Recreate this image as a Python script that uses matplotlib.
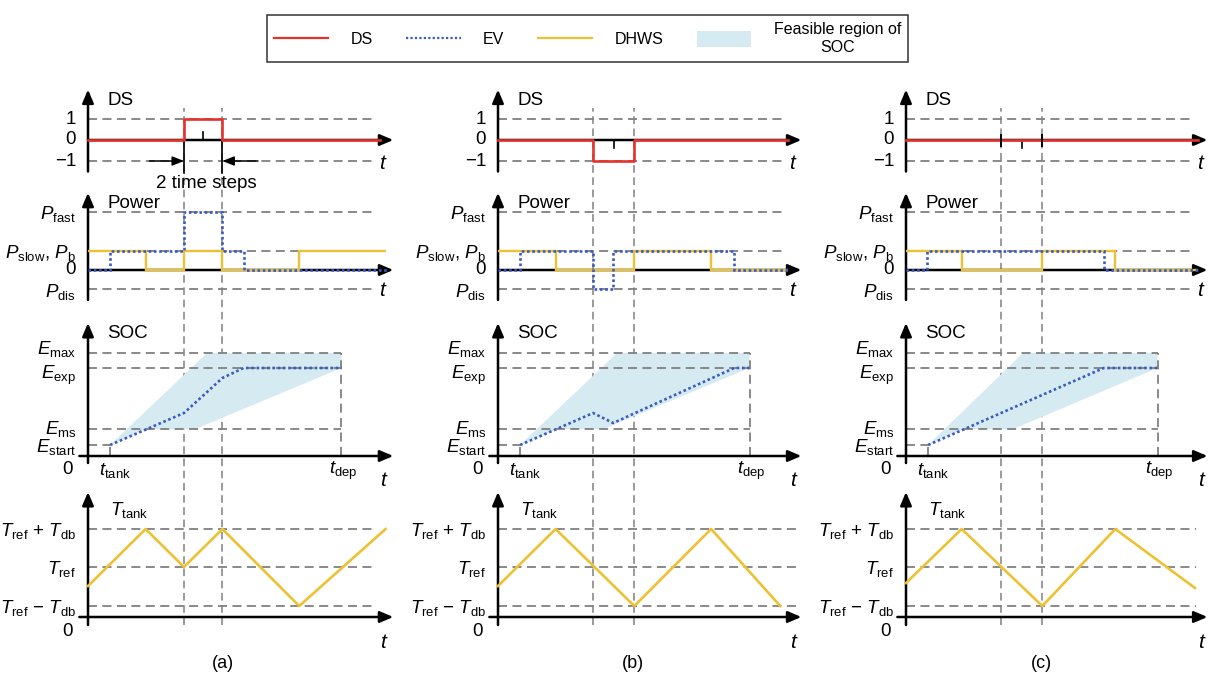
import numpy as np
import matplotlib.pyplot as plt
from matplotlib.lines import Line2D
from matplotlib.patches import Patch, Polygon

plt.rcParams['font.family'] = ['Liberation Sans', 'DejaVu Sans']
plt.rcParams['mathtext.fontset'] = 'custom'
plt.rcParams['mathtext.rm'] = 'Liberation Sans'
plt.rcParams['mathtext.it'] = 'Liberation Sans:italic'

RED = '#e5322d'
BLUE = '#3a5bbf'
YEL = '#edc132'
SHADE = '#d6ebf1'
GREY = '#808080'
DASH = (0, (5, 3))

# ---- levels (schematic units) ----
ds_levels = [1, 0, -1]
ds_labels = ['1', '0', '\u22121']
p_fast, p_b, p_dis = 3.0, 1.0, -1.0
e_start, e_ms, e_exp, e_max = 1.1, 2.7, 8.8, 10.3
t_lo, t_ref, t_hi = 1.1, 5.0, 8.8

# ---- per column data, time in steps ----
ds_on = [5.0, 4.95, 4.95]
ds_off = [7.0, 7.1, 7.1]
ds_val = [1, -1, 0]
ds_end = [15.2, 15.1, 15.2]
mid_tick = [1, -1, -1]
t_tank = [1.15, 1.15, 1.15]
t_dep = [13.2, 13.1, 13.1]

ev_edges = [[0, 1.15, 5.0, 7.0, 8.1, 15.6],
            [0, 1.15, 4.95, 6.0, 12.3, 15.1],
            [0, 1.1, 10.3, 15.2]]
ev_vals = [[0, p_b, p_fast, p_b, 0],
           [0, p_b, p_dis, p_b, 0],
           [0, p_b, 0]]
hw_edges = [[0, 3.0, 5.0, 7.0, 11.0, 15.5],
            [0, 3.0, 7.1, 11.1, 15.1],
            [0, 2.9, 7.1, 10.9, 15.2]]
hw_vals = [[p_b, 0, p_b, 0, p_b],
           [p_b, 0, p_b, 0],
           [p_b, 0, p_b, 0]]

soc_t = [[1.15, 5.0, 7.0, 8.1, 13.2],
         [1.15, 4.95, 6.0, 12.3, 13.1],
         [1.15, 10.3, 13.1]]
soc_e = [[e_start, 4.3, 7.8, e_exp, e_exp],
         [e_start, 4.3, 3.3, e_exp, e_exp],
         [e_start, e_exp, e_exp]]
feas_t = [[1.15, 6.2, 13.2, 13.2, 5.6, 3.1],
          [1.15, 6.2, 13.1, 13.1, 5.5, 3.1],
          [1.15, 6.1, 13.1, 13.1, 5.6, 3.0]]
feas_e = [e_start, e_max, e_max, e_exp, e_ms, e_ms]

tmp_t = [[0, 3.0, 5.0, 7.0, 11.0, 15.5],
         [0, 3.0, 7.1, 11.1, 14.7],
         [0, 2.9, 7.1, 10.9, 15.05]]
tmp_v = [[3.1, t_hi, t_ref, t_hi, t_lo, t_hi],
         [3.1, t_hi, t_lo, t_hi, t_lo],
         [3.4, t_hi, t_lo, t_hi, 2.9]]
tmp_dash_end = [14.9, 15.6, 15.1]
tip = [15.9, 15.8, 15.7]
col_names = ['(a)', '(b)', '(c)']

# ---- layout (pixels) ----
W, H = 1213, 678
SX = 19.2
col_x0 = [88, 498, 906]
row_geom = {'ds': (140, 21.0), 'pw': (270, 19.3), 'soc': (456, 10.0), 'tmp': (617, 10.0)}
row_ylim = {'ds': (-1.5, 2.4), 'pw': (-1.55, 4.0), 'soc': (-0.7, 13.3), 'tmp': (-0.8, 12.5)}
XLIM = (-1.0, 16.5)
FS = 13.5

fig = plt.figure(figsize=(W / 100, H / 100), dpi=100)


def panel(c, r):
    y0, py = row_geom[r]
    ylo, yhi = row_ylim[r]
    left = col_x0[c] + XLIM[0] * SX
    width = (XLIM[1] - XLIM[0]) * SX
    top = y0 - yhi * py
    height = (yhi - ylo) * py
    ax = fig.add_axes([left / W, 1 - (top + height) / H, width / W, height / H])
    ax.set_xlim(*XLIM)
    ax.set_ylim(ylo, yhi)
    ax.axis('off')
    return ax


def arrows(ax, r, xtip, xstart=0.0):
    ylo, yhi = row_ylim[r]
    kw = dict(arrowstyle='-|>,head_length=0.8,head_width=0.34', color='k', lw=1.8,
              shrinkA=0, shrinkB=0, mutation_scale=10)
    ax.annotate('', xy=(0, yhi), xytext=(0, ylo), arrowprops=kw, annotation_clip=False, zorder=1.5)
    ax.annotate('', xy=(xtip, 0), xytext=(xstart, 0), arrowprops=kw, annotation_clip=False, zorder=1.5)


def hdash(ax, y, x1, x0=0):
    ax.plot([x0, x1], [y, y], color=GREY, lw=1.3, ls=DASH, zorder=1, clip_on=False)


def ylab(ax, y, s, dy=0):
    ax.text(-0.62, y + dy, s, ha='right', va='center', fontsize=FS)


for c in range(3):
    # ---------- DS ----------
    ax = panel(c, 'ds')
    arrows(ax, 'ds', tip[c])
    for y in (1, -1):
        hdash(ax, y, 14.8)
    for y, s in zip(ds_levels, ds_labels):
        ylab(ax, y, s)
    ax.text(1.0, 1.9, 'DS', ha='left', va='center', fontsize=FS)
    ax.text(15.3, -1.1, 't', fontstyle='italic', ha='center', va='center', fontsize=15)
    ax.plot([0, ds_on[c], ds_on[c], ds_off[c], ds_off[c], ds_end[c]],
            [0, 0, ds_val[c], ds_val[c], 0, 0], color=RED, lw=1.9, zorder=3, clip_on=False)
    mid = (ds_on[c] + ds_off[c]) / 2
    ax.plot([mid, mid], [0, 0.38 * mid_tick[c]], color='k', lw=1.2, zorder=2)
    if c == 2:
        for x in (ds_on[c], ds_off[c]):
            ax.plot([x, x], [-0.3, 0.25], color='k', lw=1.4, zorder=4)
    # column guide lines
    y_top = (140 - 108) / 21.0
    y_bot = (140 - 625) / 21.0
    for x in (ds_on[c], ds_off[c]):
        ax.plot([x, x], [y_bot, y_top], color=GREY, lw=1.1, ls=DASH, zorder=1, clip_on=False)
    if c == 0:
        for x in (ds_on[c], ds_off[c]):
            ax.plot([x, x], [0, -1.57], color='k', lw=1.2, zorder=2, clip_on=False)
        akw = dict(arrowstyle='-|>,head_length=0.7,head_width=0.28', color='k', lw=1.1,
                   shrinkA=0, shrinkB=0, mutation_scale=10)
        ax.annotate('', xy=(ds_on[c], -1), xytext=(3.2, -1), arrowprops=akw, annotation_clip=False)
        ax.annotate('', xy=(ds_off[c], -1), xytext=(8.85, -1), arrowprops=akw, annotation_clip=False)
        ax.text(mid + 0.15, -2.05, '2 time steps', ha='center', va='center', fontsize=FS)

    # ---------- Power ----------
    ax = panel(c, 'pw')
    arrows(ax, 'pw', tip[c])
    for y in (p_fast, p_b, p_dis):
        hdash(ax, y, 14.8)
    ylab(ax, p_fast, r'$P_{\rm fast}$', -0.1)
    ylab(ax, p_b, r'$P_{\rm slow}$, $P_{\rm b}$', -0.1)
    ylab(ax, 0, '0')
    ylab(ax, p_dis, r'$P_{\rm dis}$', -0.15)
    ax.text(1.0, 3.47, 'Power', ha='left', va='center', fontsize=FS)
    ax.text(15.3, -1.04, 't', fontstyle='italic', ha='center', va='center', fontsize=15)
    ax.stairs(hw_vals[c], hw_edges[c], baseline=None, color=YEL, lw=1.7, zorder=3)
    ax.stairs(ev_vals[c], ev_edges[c], baseline=None, color=BLUE, lw=1.9, ls=(0, (1, 1)), zorder=4)

    # ---------- SOC ----------
    ax = panel(c, 'soc')
    arrows(ax, 'soc', tip[c], xstart=-0.45)
    ax.add_patch(Polygon(np.column_stack([feas_t[c], feas_e]), closed=True,
                         facecolor=SHADE, edgecolor='none', zorder=0))
    for y in (e_max, e_exp, e_ms):
        hdash(ax, y, t_dep[c])
    hdash(ax, e_start, t_tank[c])
    ax.plot([t_dep[c], t_dep[c]], [0, e_max], color=GREY, lw=1.3, ls=DASH, zorder=1)
    ax.plot([t_tank[c], t_tank[c]], [0, e_start], color=GREY, lw=1.3, ls=DASH, zorder=1)
    ylab(ax, e_max, r'$E_{\rm max}$', 0.4)
    ylab(ax, e_exp, r'$E_{\rm exp}$', -0.7)
    ylab(ax, e_ms, r'$E_{\rm ms}$')
    ylab(ax, e_start, r'$E_{\rm start}$', -0.2)
    ax.text(-1.05, -1.4, '0', ha='center', va='center', fontsize=FS)
    ax.text(1.0, 12.2, 'SOC', ha='left', va='center', fontsize=FS)
    ax.text(t_tank[c] + 0.25, -1.5, r'$t_{\rm tank}$', ha='center', va='center', fontsize=FS)
    ax.text(t_dep[c] + 0.1, -1.5, r'$t_{\rm dep}$', ha='center', va='center', fontsize=FS)
    ax.text(15.35, -2.4, 't', fontstyle='italic', ha='center', va='center', fontsize=15)
    ax.plot(soc_t[c], soc_e[c], color=BLUE, lw=1.9, ls=(0, (1, 1)), zorder=4)

    # ---------- Tank temperature ----------
    ax = panel(c, 'tmp')
    arrows(ax, 'tmp', tip[c], xstart=-0.45)
    for y in (t_hi, t_ref, t_lo):
        hdash(ax, y, tmp_dash_end[c])
    ylab(ax, t_hi, r'$T_{\rm ref}$ + $T_{\rm db}$', -0.2)
    ylab(ax, t_ref, r'$T_{\rm ref}$', -0.2)
    ylab(ax, t_lo, r'$T_{\rm ref}$ ' + '\u2212' + r' $T_{\rm db}$', -0.2)
    ax.text(-1.05, -1.5, '0', ha='center', va='center', fontsize=FS)
    ax.text(1.15, 10.7, r'$T_{\rm tank}$', ha='left', va='center', fontsize=FS)
    ax.text(15.35, -2.6, 't', fontstyle='italic', ha='center', va='center', fontsize=15)
    ax.plot(tmp_t[c], tmp_v[c], color=YEL, lw=1.9, zorder=3, clip_on=False)
    ax.text(7.05, -4.6, col_names[c], ha='center', va='center', fontsize=13)

# ---------- legend ----------
handles = [Line2D([], [], color=RED, lw=1.6),
           Line2D([], [], color=BLUE, lw=1.6, ls=(0, (1, 1))),
           Line2D([], [], color=YEL, lw=1.6),
           Patch(facecolor=SHADE, edgecolor='none')]
labels = ['DS', 'EV', 'DHWS', 'Feasible region of\nSOC']
leg = fig.legend(handles, labels, loc='upper center', bbox_to_anchor=(587.5 / W, 1 - 7 / H),
                 ncol=4, frameon=True, fancybox=False, fontsize=11.5, handlelength=3.4,
                 handleheight=1.2, handletextpad=1.4, columnspacing=2.1, borderpad=0.45)
leg.get_frame().set_edgecolor('k')
leg.get_frame().set_linewidth(1.1)
for t in leg.get_texts():
    t.set_multialignment('center')

fig.savefig('out.png', dpi=100)
